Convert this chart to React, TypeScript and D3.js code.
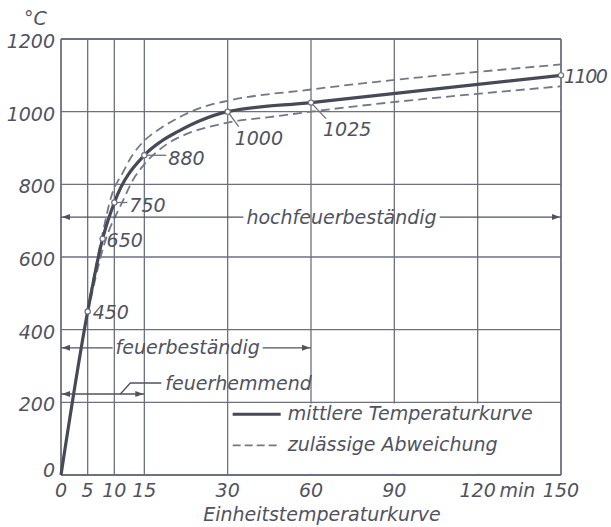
import React, { useRef, useEffect } from 'react';
import * as d3 from 'd3';

// axis ticks
const xTicks = [0, 5, 10, 15, 30, 60, 90, 120, 150];
const yTicks = [0, 200, 400, 600, 800, 1000, 1200];

// mittlere Temperaturkurve (min, °C)
const tMean = [0, 5, 7.8, 10, 15, 18, 21, 25, 30, 60, 150];
const tempMean = [0, 450, 650, 750, 880, 918, 945, 975, 1000, 1025, 1100];

// zulässige Abweichung, obere Grenze
const tUpper = [5, 7.8, 9.4, 11.5, 13, 15, 18, 22, 25, 30, 60, 150];
const tempUpper = [455, 665, 765, 835, 880, 920, 955, 990, 1010, 1030, 1061, 1130];

// zulässige Abweichung, untere Grenze
const tLower = [5, 8, 11.5, 13.1, 15, 19, 23, 28, 30, 45, 60, 150];
const tempLower = [445, 630, 757, 812, 855, 910, 941, 963, 970, 985, 1000, 1070];

// marked points on the curve
const markT = [5, 7.8, 10, 15, 30, 60, 150];
const markTemp = [450, 650, 750, 880, 1000, 1025, 1100];
const markLabels = ['450', '650', '750', '880', '1000', '1025', '1100'];

// fire resistance classes: label, duration (min), level (°C)
const classLabels = ['hochfeuerbeständig', 'feuerbeständig', 'feuerhemmend'];
const classDuration = [150, 60, 15];
const classLevel = [710, 350, 223];

const W = 611;
const H = 527;
const margin = { top: 39, right: 50, bottom: 52, left: 61 };
const FONT = "'DejaVu Sans', sans-serif";
const INK = '#4f5360';
const GRID = '#6d717e';

const App = () => {
  const svgRef = useRef<SVGSVGElement | null>(null);

  useEffect(() => {
    document.body.style.margin = '0';
    if (!svgRef.current) return;
    const svg = d3.select(svgRef.current);
    svg.selectAll('*').remove();

    const iw = W - margin.left - margin.right;
    const ih = H - margin.top - margin.bottom;

    // the time axis is piecewise: 0..15 squeezed into one 15-min slot
    const slot = [0, 0.32, 0.64, 1, 2, 3, 4, 5, 6];
    const x = d3.scaleLinear()
      .domain(xTicks)
      .range(slot.map(s => margin.left + (s / 6) * iw));
    const y = d3.scaleLinear()
      .domain([0, 1200])
      .range([margin.top + ih, margin.top]);

    const g = svg.append('g');

    // grid
    g.selectAll('.vgrid')
      .data(xTicks)
      .enter()
      .append('line')
      .attr('x1', d => x(d)).attr('x2', d => x(d))
      .attr('y1', y(0)).attr('y2', y(1200))
      .attr('stroke', GRID)
      .attr('stroke-width', d => (d === 0 || d === 150 ? 1.8 : 1.3));
    g.selectAll('.hgrid')
      .data(yTicks)
      .enter()
      .append('line')
      .attr('x1', x(0)).attr('x2', x(150))
      .attr('y1', d => y(d)).attr('y2', d => y(d))
      .attr('stroke', GRID)
      .attr('stroke-width', d => (d === 0 || d === 1200 ? 1.8 : 1.3));

    // legend box covers the grid
    g.append('rect')
      .attr('x', x(30) + 1.2)
      .attr('y', y(200) + 1.2)
      .attr('width', x(150) - x(30) - 2.4)
      .attr('height', y(0) - y(200) - 2.4)
      .attr('fill', '#fff');

    const text = (sel: any) => sel
      .attr('font-family', FONT)
      .attr('font-style', 'oblique')
      .attr('font-size', 19)
      .attr('fill', INK);

    // y ticks
    g.selectAll('.ylab')
      .data(yTicks)
      .enter()
      .append('text')
      .call(text)
      .attr('x', margin.left - 6)
      .attr('y', d => y(d) + (d === 0 ? -5 : 2))
      .attr('text-anchor', 'end')
      .attr('dominant-baseline', 'central')
      .text(d => d);

    g.append('text').call(text)
      .attr('x', 24).attr('y', 25)
      .text('°C');

    // x ticks
    g.selectAll('.xlab')
      .data(xTicks)
      .enter()
      .append('text')
      .call(text)
      .attr('x', d => x(d))
      .attr('y', 497)
      .attr('text-anchor', 'middle')
      .text(d => d);
    g.append('text').call(text)
      .attr('x', (x(120) + x(150)) / 2 - 2)
      .attr('y', 497)
      .attr('text-anchor', 'middle')
      .text('min');
    g.append('text').call(text)
      .attr('x', 322)
      .attr('y', 521)
      .attr('text-anchor', 'middle')
      .text('Einheitstemperaturkurve');

    // curves
    const line = d3.line<[number, number]>()
      .x(d => x(d[0]))
      .y(d => y(d[1]))
      .curve(d3.curveMonotoneX);

    const upper = tUpper.map((t, i) => [t, tempUpper[i]] as [number, number]);
    const lower = tLower.map((t, i) => [t, tempLower[i]] as [number, number]);
    const mean = tMean.map((t, i) => [t, tempMean[i]] as [number, number]);

    [upper, lower].forEach(pts => {
      g.append('path')
        .attr('d', line(pts))
        .attr('fill', 'none')
        .attr('stroke', '#737886')
        .attr('stroke-width', 1.8)
        .attr('stroke-dasharray', '9,5');
    });
    g.append('path')
      .attr('d', line(mean))
      .attr('fill', 'none')
      .attr('stroke', '#464a57')
      .attr('stroke-width', 3.2)
      .attr('stroke-linejoin', 'round');

    // point labels: leader end offset, text offset
    const labelPos: { leader?: [number, number]; at: [number, number] }[] = [
      { at: [5, 7] },
      { at: [4, 8] },
      { leader: [13, 0], at: [15, 9] },
      { leader: [22, 0], at: [24, 10] },
      { leader: [11, 15], at: [7, 33] },
      { leader: [15, 16], at: [12, 33] },
      { at: [3, 8] },
    ];
    markT.forEach((t, i) => {
      const px = x(t);
      const py = y(markTemp[i]);
      const p = labelPos[i];
      if (p.leader) {
        g.append('line')
          .attr('x1', px).attr('y1', py)
          .attr('x2', px + p.leader[0]).attr('y2', py + p.leader[1])
          .attr('stroke', GRID).attr('stroke-width', 1.3);
      }
      g.append('circle')
        .attr('cx', px).attr('cy', py).attr('r', 2.6)
        .attr('fill', '#fff').attr('stroke', GRID).attr('stroke-width', 1.2);
      g.append('text').call(text)
        .attr('x', px + p.at[0])
        .attr('y', py + p.at[1])
        .attr('letter-spacing', t === 150 ? -1.5 : 0)
        .text(markLabels[i]);
    });

    // class arrows
    const arrowHead = (tipX: number, yy: number, dir: number) => {
      g.append('path')
        .attr('d', `M${tipX},${yy} L${tipX - dir * 8},${yy - 3} L${tipX - dir * 8},${yy + 3} Z`)
        .attr('fill', INK);
    };
    const textCenter = [71, 22.8];
    classLabels.forEach((lab, i) => {
      const yy = y(classLevel[i]);
      const x0 = x(0);
      const x1 = x(classDuration[i]);
      arrowHead(x0 + 1, yy, -1);
      arrowHead(x1 - 1, yy, 1);
      if (i < 2) {
        const t = g.append('text').call(text)
          .attr('x', x(textCenter[i]))
          .attr('y', yy)
          .attr('dy', '0.35em')
          .attr('text-anchor', 'middle')
          .text(lab);
        const bb = (t.node() as SVGTextElement).getBBox();
        g.append('line')
          .attr('x1', x0).attr('x2', bb.x - 3)
          .attr('y1', yy).attr('y2', yy)
          .attr('stroke', INK).attr('stroke-width', 1.3);
        g.append('line')
          .attr('x1', bb.x + bb.width + 3).attr('x2', x1)
          .attr('y1', yy).attr('y2', yy)
          .attr('stroke', INK).attr('stroke-width', 1.3);
      } else {
        g.append('line')
          .attr('x1', x0).attr('x2', x1)
          .attr('y1', yy).attr('y2', yy)
          .attr('stroke', INK).attr('stroke-width', 1.3);
        const lx = x(11);
        g.append('path')
          .attr('d', `M${lx},${yy} L${lx + 10},${yy - 11} L${lx + 41},${yy - 11}`)
          .attr('fill', 'none')
          .attr('stroke', INK).attr('stroke-width', 1.3);
        g.append('text').call(text)
          .attr('x', lx + 45)
          .attr('y', yy - 11)
          .attr('dy', '0.35em')
          .text(lab);
      }
    });

    // legend
    const lx = x(30) + 5;
    const ly1 = y(200) + 12;
    const ly2 = y(200) + 43;
    g.append('line')
      .attr('x1', lx).attr('x2', lx + 48)
      .attr('y1', ly1).attr('y2', ly1)
      .attr('stroke', '#464a57').attr('stroke-width', 3);
    g.append('line')
      .attr('x1', lx).attr('x2', lx + 44)
      .attr('y1', ly2).attr('y2', ly2)
      .attr('stroke', '#737886').attr('stroke-width', 1.6)
      .attr('stroke-dasharray', '8,4');
    g.append('text').call(text)
      .attr('x', lx + 55).attr('y', ly1 + 6)
      .text('mittlere Temperaturkurve');
    g.append('text').call(text)
      .attr('x', lx + 55).attr('y', ly2 + 6)
      .text('zulässige Abweichung');
  }, []);

  return (
    <svg ref={svgRef} width={W} height={H} style={{ display: 'block', background: '#fff' }} />
  );
};

export default App;
